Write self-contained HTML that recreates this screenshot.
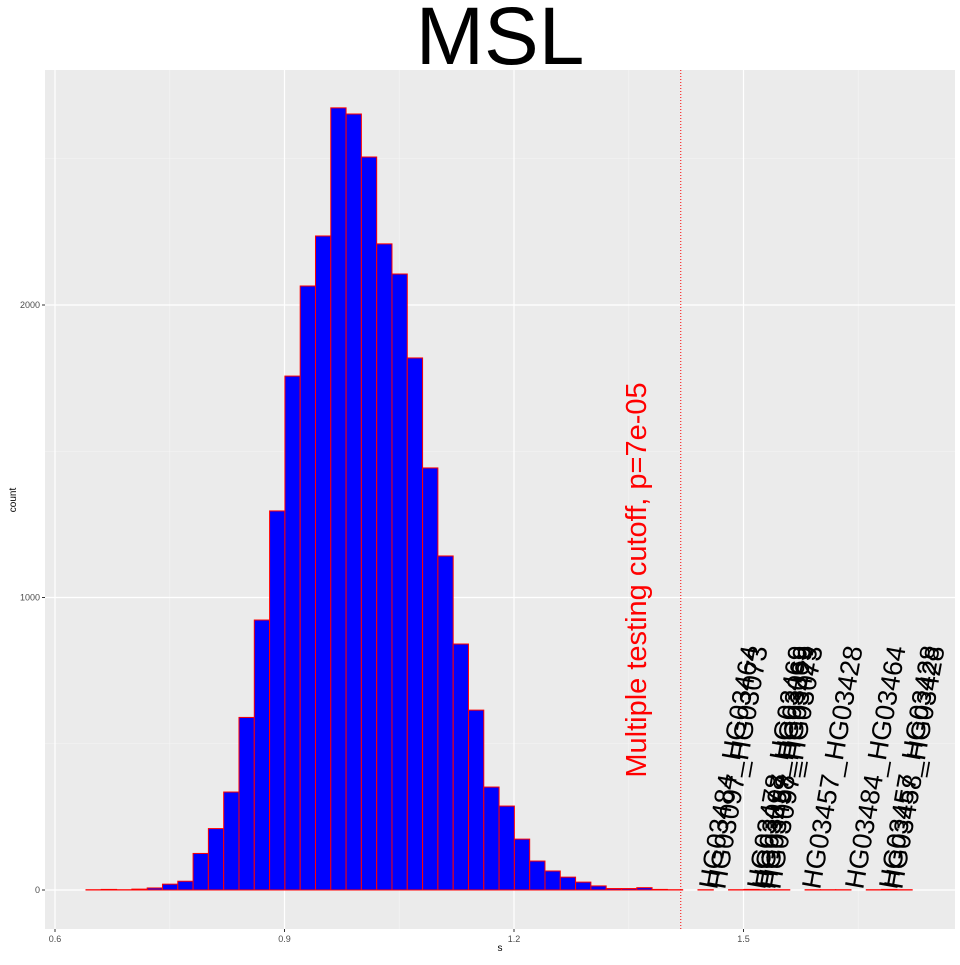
<!DOCTYPE html>
<html><head><meta charset="utf-8"><style>
html,body{margin:0;padding:0;background:#fff;}
svg text{font-family:"Liberation Sans",sans-serif;}
</style></head><body>
<svg id="chart" width="960" height="960" xmlns="http://www.w3.org/2000/svg">
<text x="500" y="64" font-size="82" text-anchor="middle">MSL</text>
<rect x="45" y="70" width="910" height="859" fill="#ebebeb"/>
<g id="grid"></g>
<g id="bars"></g>
<g id="annot"></g>
<g id="axes"></g>
<text x="500" y="951" font-size="10" text-anchor="middle">s</text>
<text x="0" y="0" font-size="10" text-anchor="middle" transform="translate(16,500) rotate(-90)">count</text>
</svg>
<script>
const binStart = 0.6405;
const binWidth = 0.02;
const counts = [1,2,1,3,7,20,30,125,210,335,590,923,1296,1757,2065,2236,2674,2653,2506,2209,2106,1819,1443,1142,841,615,352,287,174,99,65,44,27,14,5,5,8,2,1,0,1,0,1,2,1,1,0,1,1,1,0,1,2,1];
const xTicks = [0.6,0.9,1.2,1.5];
const xMinor = [0.75,1.05,1.35,1.65];
const yTicks = [0,1000,2000];
const yMinor = [500,1500,2500];
const cutoff = 1.418;
const cutoffLabel = "Multiple testing cutoff, p=7e-05";
const sampleNames = ["HG03484_HG03464","HG03097_HG03073","HG03478_HG03469","HG03097_HG03069","HG03458_HG03429","HG03097_HG03073","HG03457_HG03428","HG03484_HG03464","HG03457_HG03428","HG03458_HG03428"];
const sampleS = [1.4654,1.4758,1.5281,1.5346,1.5412,1.5477,1.600,1.6562,1.7007,1.7072];

const X = v => 55 + (v - 0.6) * 765;
const Y = c => 890 - c * 0.2925;
const NS = "http://www.w3.org/2000/svg";
function mk(tag, attrs, parent){const e=document.createElementNS(NS,tag);for(const k in attrs)e.setAttribute(k,attrs[k]);parent.appendChild(e);return e;}
const grid=document.getElementById('grid'),bars=document.getElementById('bars'),annot=document.getElementById('annot'),axes=document.getElementById('axes');

xMinor.forEach(v=>{const l=mk('line',{x1:X(v),x2:X(v),y1:70,y2:929,stroke:'#f5f5f5','stroke-width':0.6},grid);

});
yMinor.forEach(v=>{const l=mk('line',{x1:45,x2:955,y1:Y(v),y2:Y(v),stroke:'#f5f5f5','stroke-width':0.6},grid);

});
xTicks.forEach(v=>{const l=mk('line',{x1:X(v),x2:X(v),y1:70,y2:929,stroke:'#fff','stroke-width':1.2},grid);


const t=mk('line',{x1:X(v),x2:X(v),y1:929,y2:932,stroke:'#333'},axes);


const tx=mk('text',{x:X(v),y:942,'font-size':9,'text-anchor':'middle',fill:'#4d4d4d'},axes);tx.textContent=v.toFixed(1);

});
yTicks.forEach(v=>{const l=mk('line',{x1:45,x2:955,y1:Y(v),y2:Y(v),stroke:'#fff','stroke-width':1.2},grid);


const t=mk('line',{x1:42,x2:45,y1:Y(v),y2:Y(v),stroke:'#333'},axes);


const tx=mk('text',{x:40,y:Y(v)+3,'font-size':9,'text-anchor':'end',fill:'#4d4d4d'},axes);tx.textContent=v;

});

counts.forEach((c,i)=>{const x0=X(binStart+i*binWidth),x1=X(binStart+(i+1)*binWidth);
const r=mk('rect',{x:x0,y:Y(c),width:x1-x0,height:Y(0)-Y(c),fill:'#0000ff',stroke:'#ff0000','stroke-width':1},bars);

});

const vl=mk('line',{x1:X(cutoff),x2:X(cutoff),y1:70,y2:929,stroke:'#ff0000','stroke-width':1,'stroke-dasharray':'1,2'},annot);


const ct=mk('text',{x:0,y:0,'font-size':29,fill:'#ff0000','text-anchor':'middle',transform:`translate(${X(cutoff)-35},580) rotate(-90)`},annot);
ct.textContent=cutoffLabel;


sampleNames.forEach((n,i)=>{const t=mk('text',{x:0,y:0,'font-size':27,fill:'#000',transform:`translate(${X(sampleS[i])},890) rotate(-80)`},annot);
t.textContent=n;

});
</script>
</body></html>
